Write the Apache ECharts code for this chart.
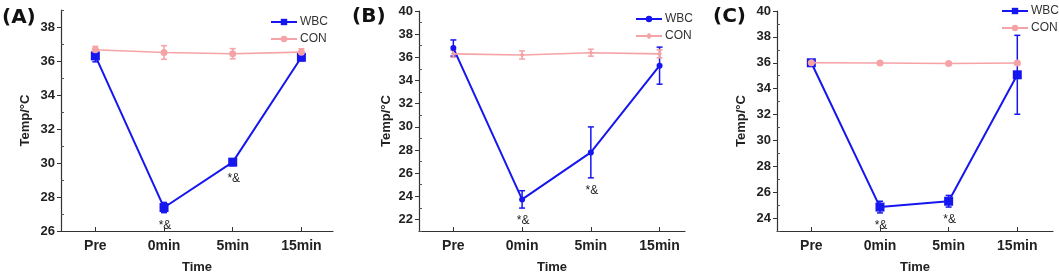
<!DOCTYPE html>
<html>
<head>
<meta charset="utf-8">
<script src="https://cdn.jsdelivr.net/npm/echarts@6/dist/echarts.min.js"></script>
<style>
  html, body { margin: 0; padding: 0; background: #fff; }
  #main { width: 1059px; height: 275px; }
</style>
</head>
<body>
<div id="main"></div>
<script>
var categories = ['Pre', '0min', '5min', '15min'];
var notes = ['', '*&', '*&', ''];

// panel A
var wbcA = [36.3, 27.38, 30.05, 36.22];
var wbcA_sd = [0.35, 0.3, 0.2, 0.2];
var conA = [36.66, 36.5, 36.43, 36.52];
var conA_sd = [0.2, 0.4, 0.3, 0.2];
var yTicksA = [26, 28, 30, 32, 34, 36, 38];

// panel B
var wbcB = [36.8, 23.73, 27.79, 35.28];
var wbcB_sd = [0.7, 0.75, 2.2, 1.6];
var conB = [36.3, 36.2, 36.4, 36.3];
var conB_sd = [0.3, 0.35, 0.3, 0.35];
var yTicksB = [22, 24, 26, 28, 30, 32, 34, 36, 38, 40];

// panel C
var wbcC = [36.0, 24.85, 25.3, 35.07];
var wbcC_sd = [0.15, 0.45, 0.45, 3.05];
var conC = [36.0, 35.98, 35.94, 35.98];
var conC_sd = [0.1, 0.08, 0.08, 0.1];
var yTicksC = [24, 26, 28, 30, 32, 34, 36, 38, 40];

var BLUE = '#1616ee';
var PINK = '#f5a3a6';
var FONT = 'Liberation Sans';

var panels = [
  { key: 'A', grid: { left: 61, top: 10, width: 272, height: 221 }, ymin: 26, ymax: 39, xmax: 3.46, ticks: yTicksA,
    wbc: wbcA, wbcSd: wbcA_sd, con: conA, conSd: conA_sd, wSym: 'rect', wSize: 9, cSym: 'circle', cSize: 7,
    legend: { left: 270, top: 16 }, nameGap: 29 },
  { key: 'B', grid: { left: 419, top: 11, width: 266, height: 220 }, ymin: 21, ymax: 40, xmax: 3.37, ticks: yTicksB,
    wbc: wbcB, wbcSd: wbcB_sd, con: conB, conSd: conB_sd, wSym: 'circle', wSize: 6, cSym: 'diamond', cSize: 5,
    legend: { left: 635, top: 13 }, nameGap: 26 },
  { key: 'C', grid: { left: 777, top: 11, width: 276, height: 220 }, ymin: 23, ymax: 40, xmax: 3.52, ticks: yTicksC,
    wbc: wbcC, wbcSd: wbcC_sd, con: conC, conSd: conC_sd, wSym: 'rect', wSize: 9, cSym: 'circle', cSize: 7,
    legend: { right: 0, top: 5 }, nameGap: 29 }
];

function errSeries(name, idx, means, sds, color, withNotes) {
  return {
    name: name,
    type: 'custom',
    xAxisIndex: idx,
    yAxisIndex: idx * 2,
    silent: true,
    z: 2,
    data: means.map(function (m, i) { return [i, m, sds[i]]; }),
    encode: { x: 0, y: 1 },
    renderItem: function (params, api) {
      var x = api.value(0), m = api.value(1), s = api.value(2);
      var hi = api.coord([x, m + s]);
      var lo = api.coord([x, m - s]);
      var st = { stroke: color, lineWidth: 1.5 };
      var kids = [
        { type: 'line', shape: { x1: hi[0], y1: hi[1], x2: lo[0], y2: lo[1] }, style: st },
        { type: 'line', shape: { x1: hi[0] - 3, y1: hi[1], x2: hi[0] + 3, y2: hi[1] }, style: st },
        { type: 'line', shape: { x1: lo[0] - 3, y1: lo[1], x2: lo[0] + 3, y2: lo[1] }, style: st }
      ];
      if (withNotes && notes[params.dataIndex]) {
        kids.push({ type: 'text', style: { text: notes[params.dataIndex], x: lo[0] + 1, y: lo[1] + 13,
          align: 'center', verticalAlign: 'middle', font: '12px ' + FONT, fill: '#222' } });
      }
      return { type: 'group', children: kids };
    }
  };
}

var option = { animation: false, grid: [], xAxis: [], yAxis: [], series: [], legend: [], graphic: [] };

panels.forEach(function (p, idx) {
  var g = Object.assign({ outerBoundsMode: 'none', containLabel: false }, p.grid);
  option.grid.push(g);
  option.xAxis.push({
    type: 'value', gridIndex: idx, min: -0.5, max: p.xmax,
    name: 'Time', nameLocation: 'middle', nameGap: 30,
    nameTextStyle: { fontFamily: FONT, fontWeight: 'bold', fontSize: 13, color: '#222' },
    axisLine: { onZero: false, lineStyle: { color: '#333', width: 1.2 } },
    axisTick: { inside: true, length: 4, customValues: [0, 1, 2, 3], lineStyle: { color: '#333' } },
    axisLabel: { customValues: [0, 1, 2, 3], margin: 8, fontFamily: FONT, fontWeight: 'bold', fontSize: 14, color: '#222',
      formatter: function (v) { return categories[Math.round(v)]; } },
    splitLine: { show: false }
  });
  var minor = [];
  for (var t = p.ymin; t <= p.ymax; t++) { if (p.ticks.indexOf(t) < 0) minor.push(t); }
  option.yAxis.push({
    type: 'value', gridIndex: idx, min: p.ymin, max: p.ymax,
    name: 'Temp/°C', nameLocation: 'middle', nameGap: p.nameGap,
    nameTextStyle: { fontFamily: FONT, fontWeight: 'bold', fontSize: 13, color: '#222' },
    axisLine: { show: true, onZero: false, lineStyle: { color: '#333', width: 1.2 } },
    axisTick: { show: true, length: 4, customValues: p.ticks, lineStyle: { color: '#333' } },
    axisLabel: { customValues: p.ticks, margin: 6, fontFamily: FONT, fontWeight: 'bold', fontSize: 13, color: '#222' },
    splitLine: { show: false }
  });
  option.yAxis.push({
    type: 'value', gridIndex: idx, min: p.ymin, max: p.ymax, position: 'left',
    axisLine: { show: false, onZero: false },
    axisTick: { show: true, inside: true, length: 3, customValues: minor, lineStyle: { color: '#555' } },
    axisLabel: { show: false },
    splitLine: { show: false }
  });

  var wName = 'WBC ' + p.key, cName = 'CON ' + p.key;
  option.series.push(errSeries('err ' + wName, idx, p.wbc, p.wbcSd, BLUE, true));
  option.series.push({
    name: wName, type: 'line', xAxisIndex: idx, yAxisIndex: idx * 2, z: 3,
    data: p.wbc.map(function (v, i) { return [i, v]; }),
    symbol: p.wSym, symbolSize: p.wSize, showAllSymbol: true,
    lineStyle: { color: BLUE, width: 2 }, itemStyle: { color: BLUE }
  });
  option.series.push(errSeries('err ' + cName, idx, p.con, p.conSd, PINK, false));
  option.series.push({
    name: cName, type: 'line', xAxisIndex: idx, yAxisIndex: idx * 2, z: 4,
    data: p.con.map(function (v, i) { return [i, v]; }),
    symbol: p.cSym, symbolSize: p.cSize, showAllSymbol: true,
    lineStyle: { color: PINK, width: 1.6 }, itemStyle: { color: PINK }
  });

  var lg = {
    data: [wName, cName], top: p.legend.top, orient: 'vertical', padding: 0,
    itemWidth: 26, itemHeight: 8, itemGap: 5, selectedMode: false,
    textStyle: { fontFamily: FONT, fontSize: 12, color: '#333', padding: [0, 0, 0, -2] },
    formatter: function (n) { return n.split(' ')[0]; }
  };
  if (p.legend.left != null) lg.left = p.legend.left; else lg.right = p.legend.right;
  option.legend.push(lg);
});

option.graphic = [
  { type: 'text', left: 2, top: 8, style: { text: '(A)', font: 'bold 20px "DejaVu Sans"', fill: '#111' } },
  { type: 'text', left: 352, top: 7, style: { text: '(B)', font: 'bold 20px "DejaVu Sans"', fill: '#111' } },
  { type: 'text', left: 713, top: 7, style: { text: '(C)', font: 'bold 20px "DejaVu Sans"', fill: '#111' } }
];

var myChart = echarts.init(document.getElementById('main'));
myChart.setOption(option);
window.addEventListener('resize', function () {
  myChart.resize();
});
</script>
</body>
</html>
